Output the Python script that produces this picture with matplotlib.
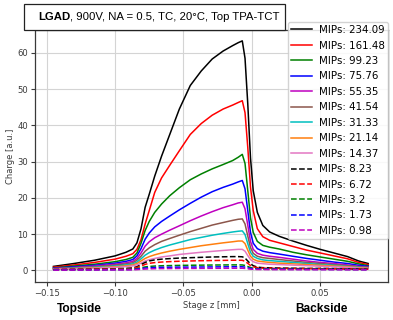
import matplotlib
matplotlib.use("Agg")
import matplotlib.pyplot as plt
from matplotlib.patches import Rectangle

# Stage positions (mm) shared by all scans
stage_z = [-0.145, -0.13, -0.115, -0.10, -0.092, -0.087, -0.084, -0.081, -0.078, -0.075,
           -0.071, -0.066, -0.060, -0.053, -0.045, -0.037, -0.029, -0.021, -0.014, -0.010,
           -0.007, -0.005, -0.003, -0.001, 0.001, 0.004, 0.008, 0.013, 0.020, 0.030,
           0.040, 0.050, 0.060, 0.070, 0.078, 0.085]

mips_labels = ["234.09", "161.48", "99.23", "75.76", "55.35", "41.54", "31.33",
               "21.14", "14.37", "8.23", "6.72", "3.2", "1.73", "0.98"]

charge_23409 = [1.1, 1.9, 2.8, 4.0, 5.0, 5.9, 7.6, 11.5, 17.4, 21.0, 26.0, 31.5, 37.5, 44.5,
                51.0, 55.0, 58.3, 60.5, 62.0, 62.8, 63.3, 58.5, 46.0, 31.0, 22.0, 16.0, 12.4,
                10.6, 9.4, 8.1, 6.9, 5.8, 4.8, 3.8, 2.6, 1.9]
charge_16148 = [0.9, 1.5, 2.2, 3.1, 3.9, 4.6, 5.8, 8.5, 12.8, 16.5, 21.5, 25.5, 29.0, 33.0,
                37.5, 40.5, 42.8, 44.5, 45.6, 46.3, 46.8, 43.5, 34.0, 23.0, 16.5, 11.5, 9.3,
                8.3, 7.6, 6.6, 5.6, 4.8, 4.0, 3.2, 2.2, 1.6]
charge_9923 = [0.7, 1.2, 1.7, 2.4, 3.0, 3.6, 4.8, 7.5, 11.0, 13.5, 16.0, 18.3, 20.6, 22.8,
               25.0, 26.6, 28.0, 29.2, 30.3, 31.2, 32.0, 29.5, 22.0, 14.5, 10.5, 8.0, 6.9,
               6.4, 5.9, 5.0, 4.3, 3.7, 3.1, 2.5, 1.8, 1.3]
charge_7576 = [0.6, 1.0, 1.4, 2.0, 2.5, 3.0, 4.0, 6.0, 8.6, 10.3, 12.0, 13.5, 15.0, 16.7,
               18.5, 20.2, 21.7, 22.9, 23.8, 24.4, 24.8, 22.5, 16.5, 10.5, 7.5, 6.0, 5.3,
               4.9, 4.5, 3.9, 3.3, 2.8, 2.3, 1.9, 1.4, 1.1]
charge_5535 = [0.5, 0.8, 1.2, 1.7, 2.1, 2.5, 3.3, 4.8, 6.7, 7.9, 9.0, 10.0, 11.1, 12.3,
               13.7, 15.0, 16.2, 17.3, 18.1, 18.6, 18.8, 17.0, 12.5, 8.0, 5.8, 4.7, 4.2,
               3.9, 3.6, 3.1, 2.6, 2.2, 1.9, 1.5, 1.1, 0.9]
charge_4154 = [0.45, 0.7, 1.0, 1.45, 1.8, 2.1, 2.8, 3.9, 5.3, 6.2, 7.1, 8.0, 8.8, 9.7,
               10.7, 11.6, 12.5, 13.2, 13.8, 14.1, 14.2, 12.8, 9.5, 6.3, 4.7, 3.9, 3.5,
               3.3, 3.0, 2.6, 2.2, 1.9, 1.6, 1.3, 1.0, 0.8]
charge_3133 = [0.4, 0.6, 0.85, 1.2, 1.5, 1.8, 2.3, 3.2, 4.2, 4.9, 5.6, 6.3, 7.0, 7.7,
               8.5, 9.1, 9.7, 10.2, 10.6, 10.8, 10.9, 9.9, 7.4, 5.0, 3.9, 3.3, 2.9,
               2.7, 2.5, 2.2, 1.9, 1.6, 1.4, 1.1, 0.85, 0.7]
charge_2114 = [0.35, 0.5, 0.7, 1.0, 1.25, 1.5, 1.9, 2.6, 3.3, 3.8, 4.3, 4.8, 5.3, 5.8,
               6.3, 6.8, 7.2, 7.6, 7.9, 8.1, 8.1, 7.4, 5.6, 3.9, 3.1, 2.6, 2.4,
               2.2, 2.0, 1.8, 1.6, 1.4, 1.2, 1.0, 0.75, 0.6]
charge_1437 = [0.3, 0.45, 0.6, 0.85, 1.05, 1.25, 1.55, 2.0, 2.6, 2.95, 3.3, 3.7, 4.0, 4.4,
               4.7, 5.0, 5.25, 5.5, 5.7, 5.8, 5.8, 5.3, 4.1, 3.0, 2.4, 2.0, 1.85,
               1.7, 1.6, 1.45, 1.3, 1.15, 1.0, 0.85, 0.65, 0.5]
charge_823 = [0.25, 0.3, 0.35, 0.45, 0.55, 0.7, 1.0, 1.6, 2.2, 2.6, 2.9, 3.1, 3.25, 3.4,
              3.5, 3.6, 3.7, 3.75, 3.8, 3.8, 3.75, 3.4, 2.6, 1.8, 1.3, 0.9, 0.75,
              0.7, 0.65, 0.6, 0.55, 0.55, 0.5, 0.45, 0.4, 0.35]
charge_672 = [0.2, 0.25, 0.3, 0.38, 0.45, 0.55, 0.8, 1.2, 1.65, 1.95, 2.15, 2.3, 2.42, 2.52,
              2.6, 2.67, 2.72, 2.76, 2.8, 2.8, 2.78, 2.5, 1.95, 1.35, 1.0, 0.75, 0.62,
              0.58, 0.55, 0.52, 0.5, 0.48, 0.45, 0.42, 0.38, 0.33]
charge_320 = [0.15, 0.18, 0.22, 0.27, 0.3, 0.35, 0.5, 0.72, 0.95, 1.1, 1.2, 1.28, 1.33, 1.38,
              1.42, 1.45, 1.48, 1.5, 1.52, 1.52, 1.5, 1.36, 1.08, 0.78, 0.6, 0.48, 0.42,
              0.4, 0.38, 0.36, 0.35, 0.34, 0.32, 0.3, 0.28, 0.25]
charge_173 = [0.12, 0.14, 0.16, 0.2, 0.22, 0.25, 0.35, 0.5, 0.65, 0.75, 0.8, 0.85, 0.88, 0.9,
              0.92, 0.94, 0.96, 0.98, 1.0, 1.0, 0.99, 0.9, 0.72, 0.54, 0.44, 0.37, 0.33,
              0.31, 0.3, 0.29, 0.28, 0.27, 0.26, 0.25, 0.23, 0.2]
charge_098 = [0.08, 0.1, 0.12, 0.14, 0.15, 0.17, 0.22, 0.3, 0.38, 0.43, 0.47, 0.5, 0.52, 0.54,
              0.55, 0.56, 0.57, 0.58, 0.6, 0.6, 0.6, 0.55, 0.45, 0.35, 0.3, 0.26, 0.24,
              0.23, 0.22, 0.21, 0.2, 0.2, 0.19, 0.18, 0.17, 0.15]

series = [charge_23409, charge_16148, charge_9923, charge_7576, charge_5535, charge_4154,
          charge_3133, charge_2114, charge_1437, charge_823, charge_672, charge_320,
          charge_173, charge_098]
colors = ["black", "red", "green", "blue", "m", "tab:brown", "c", "tab:orange",
          "tab:pink", "black", "red", "green", "blue", "m"]
styles = ["-"] * 9 + ["--"] * 5

fig = plt.figure(figsize=(3.93, 3.2), dpi=100)
ax = fig.add_axes([35 / 393, 38 / 320, 353 / 393, 252 / 320])

for vals, col, ls, lab in zip(series, colors, styles, mips_labels):
    ax.plot(stage_z, vals, color=col, linestyle=ls, lw=1.1, label=f"MIPs: {lab}")

ax.set_xlim(-0.1585, 0.0995)
ax.set_ylim(-3.2, 66.3)
ax.set_xticks([-0.15, -0.10, -0.05, 0.00, 0.05])
ax.set_xticklabels(["\u22120.15", "\u22120.10", "\u22120.05", "0.00", "0.05"])
ax.set_yticks([0, 10, 20, 30, 40, 50, 60])
ax.grid(True, color="#d4d4d4", lw=0.8)
ax.set_axisbelow(True)
for sp in ax.spines.values():
    sp.set_color("#3a3a3a")
    sp.set_linewidth(0.9)
ax.tick_params(axis="both", labelsize=6.1, colors="#3a3a3a", length=3, width=0.8, pad=2)
ax.set_xlabel("Stage z [mm]", fontsize=6, color="#3a3a3a", labelpad=2)
ax.set_ylabel("Charge [a.u.]", fontsize=6, color="#3a3a3a", labelpad=2)

leg = fig.legend(loc="upper left", bbox_to_anchor=(288 / 393, 1 - 22 / 320),
                 fontsize=7.4, labelspacing=0.53, handlelength=2.0, handletextpad=0.75,
                 borderaxespad=0, borderpad=0.3, framealpha=0.85, fancybox=True,
                 edgecolor="#cccccc")

# Title box with the bold device name followed by the run conditions
title_font = ["Liberation Sans", "DejaVu Sans"]
fig.patches.append(Rectangle((24 / 393, 1 - 30 / 320), 261 / 393, 26 / 320,
                             transform=fig.transFigure, facecolor="white",
                             edgecolor="#222222", lw=0.9, zorder=5))
t1 = fig.text(38 / 393, 1 - 17 / 320, "LGAD", fontsize=8.2, fontweight="bold",
              family=title_font, va="center", ha="left", zorder=6)
fig.canvas.draw()
bb = t1.get_window_extent()
fig.text(bb.x1 / fig.bbox.width, 1 - 17 / 320, ", 900V, NA = 0.5, TC, 20\u00b0C, Top TPA-TCT",
         fontsize=8.2, family=title_font, va="center", ha="left", zorder=6)

fig.text(57 / 393, 1 - 309 / 320, "Topside", fontsize=8.6, fontweight="bold",
         family=title_font, va="center", ha="left")
fig.text(295 / 393, 1 - 309 / 320, "Backside", fontsize=8.6, fontweight="bold",
         family=title_font, va="center", ha="left")

fig.savefig("out.png", dpi=100)
